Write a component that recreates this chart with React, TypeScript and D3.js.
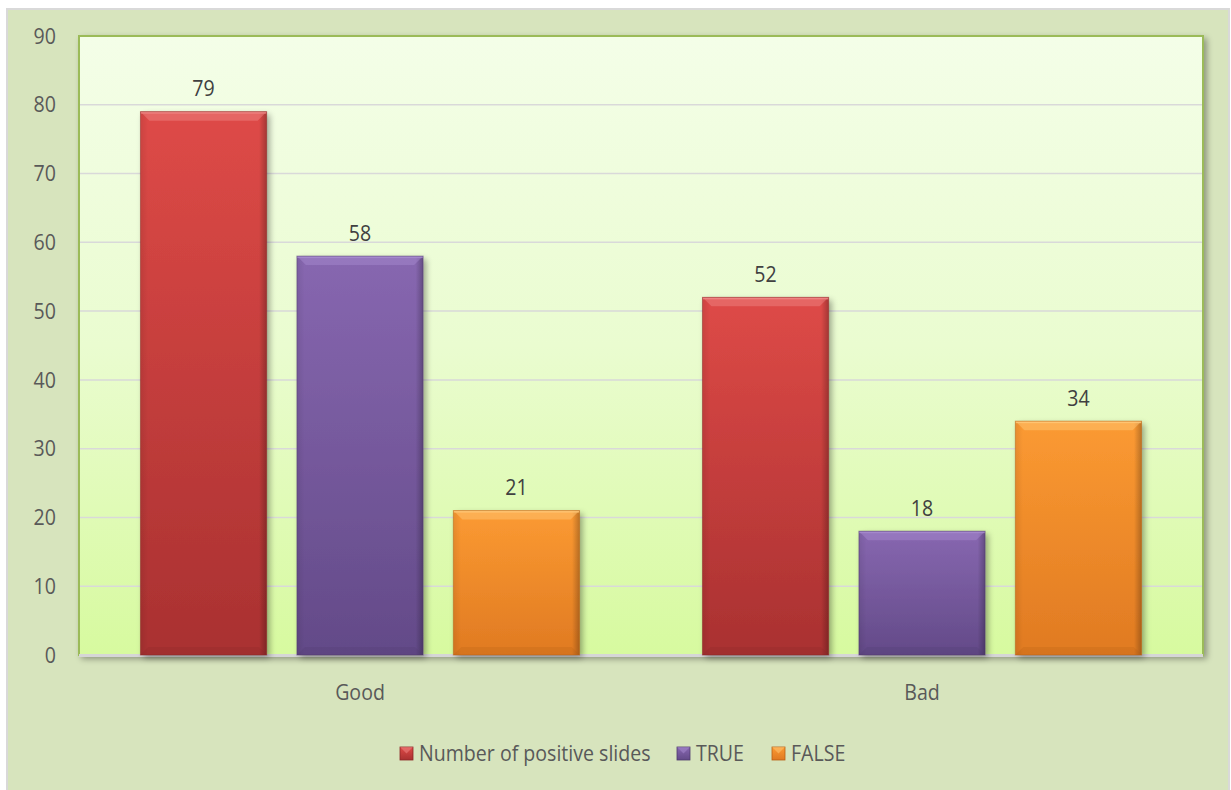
import React from "react";
import * as d3 from "d3";

const categories = ["Good", "Bad"];
const seriesNames = ["Number of positive slides", "TRUE", "FALSE"];
const positiveSlides = [79, 52];
const trueValues = [58, 18];
const falseValues = [21, 34];
const yTicks = [0, 10, 20, 30, 40, 50, 60, 70, 80, 90];

const seriesValues = [positiveSlides, trueValues, falseValues];
const colors = [
  { top: "#de4a47", bottom: "#a93131", hi: "#f08a88", edge: "#8c2626" },
  { top: "#8767b0", bottom: "#634a88", hi: "#a88cd0", edge: "#4f3a6e" },
  { top: "#fb9a32", bottom: "#e07a22", hi: "#ffc97a", edge: "#b85f14" },
];

const W = 1231;
const H = 790;
const plot = { x0: 79, x1: 1203, y0: 36, y1: 655 };
const font = "'Open Sans', sans-serif";
const fs = 22;
const sx = 0.89;

function T(props: { x: number; y: number; anchor?: string; fill?: string; children: React.ReactNode }) {
  return (
    <g transform={`translate(${props.x},${props.y}) scale(${sx},1)`}>
      <text x={0} y={0} dy="0.35em" textAnchor={props.anchor || "start"} fontFamily={font} fontSize={fs} fill={props.fill || "#595959"}>
        {props.children}
      </text>
    </g>
  );
}

export default function App() {
  const y = d3.scaleLinear().domain([0, 90]).range([plot.y1, plot.y0]);
  const x0 = d3.scaleBand<string>().domain(categories).range([plot.x0, plot.x1]).paddingInner(0).paddingOuter(0);
  const bw = x0.bandwidth();
  const barW = bw * 0.2245;
  const gap = barW * 0.24;
  const groupW = 3 * barW + 2 * gap;

  const legendItems = [
    { x: 400, label: seriesNames[0] },
    { x: 677, label: seriesNames[1] },
    { x: 772, label: seriesNames[2] },
  ];

  return (
    <svg width={W} height={H} style={{ position: "absolute", left: 0, top: 0 }}>
      <defs>
        <linearGradient id="plotbg" x1="0" y1="0" x2="0" y2="1">
          <stop offset="0" stopColor="#f4fee8" />
          <stop offset="0.5" stopColor="#eafcd0" />
          <stop offset="1" stopColor="#d7fa9f" />
        </linearGradient>
        {colors.map((c, i) => (
          <linearGradient key={i} id={`bar${i}`} x1="0" y1="0" x2="0" y2="1">
            <stop offset="0" stopColor={c.top} />
            <stop offset="1" stopColor={c.bottom} />
          </linearGradient>
        ))}
        {colors.map((c, i) => (
          <linearGradient key={i} id={`side${i}`} x1="0" y1="0" x2="1" y2="0">
            <stop offset="0" stopColor="#000" stopOpacity="0.08" />
            <stop offset="0.06" stopColor="#000" stopOpacity="0" />
            <stop offset="0.94" stopColor="#000" stopOpacity="0" />
            <stop offset="1" stopColor="#000" stopOpacity="0.25" />
          </linearGradient>
        ))}
        <filter id="shadow" x="-10%" y="-10%" width="130%" height="130%">
          <feGaussianBlur in="SourceAlpha" stdDeviation="3" />
          <feOffset dx="3" dy="3" result="b" />
          <feComponentTransfer>
            <feFuncA type="linear" slope="0.35" />
          </feComponentTransfer>
          <feMerge>
            <feMergeNode />
            <feMergeNode in="SourceGraphic" />
          </feMerge>
        </filter>
      </defs>
      <rect x={0} y={0} width={W} height={H} fill="#ffffff" />
      <rect x={6} y={8} width={1224} height={782} fill="#d9d9d9" />
      <rect x={8} y={10} width={1220} height={780} fill="#d7e4bd" />

      <g filter="url(#shadow)">
        <rect x={plot.x0} y={plot.y0} width={plot.x1 - plot.x0} height={plot.y1 - plot.y0} fill="url(#plotbg)" stroke="#9bbb59" strokeWidth={2} />
      </g>
      {yTicks.slice(1, -1).map((t) => (
        <line key={t} x1={plot.x0 + 1} x2={plot.x1 - 1} y1={y(t)} y2={y(t)} stroke="#d9d9d9" strokeWidth={1.5} />
      ))}
      <line x1={plot.x0} x2={plot.x1} y1={plot.y1 + 0.5} y2={plot.y1 + 0.5} stroke="#d6d6d6" strokeWidth={3} />

      {yTicks.map((t) => (
        <T key={t} x={56} y={y(t)} anchor="end">
          {t}
        </T>
      ))}

      {categories.map((cat, ci) => {
        const start = (x0(cat) as number) + (bw - groupW) / 2;
        return (
          <g key={cat}>
            {seriesValues.map((vals, si) => {
              const v = vals[ci];
              const bx = start + si * (barW + gap);
              const by = y(v);
              const bh = y(0) - by;
              const c = colors[si];
              return (
                <g key={si}>
                  <g filter="url(#shadow)">
                    <rect x={bx} y={by} width={barW} height={bh} fill={`url(#bar${si})`} />
                  </g>
                  <rect x={bx} y={by} width={barW} height={bh} fill={`url(#side${si})`} />
                  <polygon
                    points={`${bx},${by} ${bx + barW},${by} ${bx + barW - 9},${by + 9} ${bx + 9},${by + 9}`}
                    fill={c.hi}
                    opacity={0.45}
                  />
                  <rect x={bx} y={by} width={barW} height={2} fill={c.hi} opacity={0.8} />
                  <polygon
                    points={`${bx},${by + bh} ${bx + barW},${by + bh} ${bx + barW - 8},${by + bh - 8} ${bx + 8},${by + bh - 8}`}
                    fill={c.edge}
                    opacity={0.25}
                  />
                  <rect x={bx} y={by} width={barW} height={bh} fill="none" stroke={c.edge} strokeOpacity={0.5} strokeWidth={1} />
                  <T x={bx + barW / 2} y={by - 23} anchor="middle" fill="#404040">
                    {v}
                  </T>
                </g>
              );
            })}
            <T x={(x0(cat) as number) + bw / 2} y={692} anchor="middle">
              {cat}
            </T>
          </g>
        );
      })}

      {legendItems.map((it, i) => {
        const c = colors[i];
        return (
          <g key={i}>
            <rect x={it.x} y={747} width={13} height={13} fill={`url(#bar${i})`} stroke={c.edge} strokeWidth={0.8} />
            <polygon points={`${it.x},747 ${it.x + 13},747 ${it.x + 6.5},753.5`} fill={c.hi} opacity={0.5} />
            <T x={it.x + 19} y={753.5}>
              {it.label}
            </T>
          </g>
        );
      })}
    </svg>
  );
}
